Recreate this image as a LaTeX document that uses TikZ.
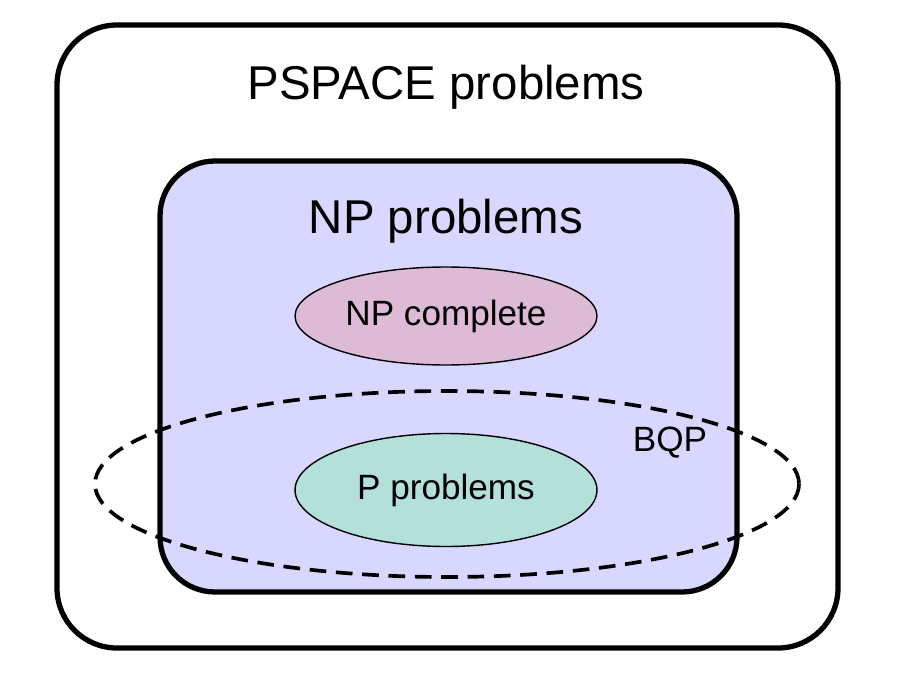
\documentclass[tikz,border=0pt]{standalone}
\usepackage{fontspec}
\setmainfont{Liberation Sans}
\usetikzlibrary{shapes.geometric}
\definecolor{nplav}{HTML}{D7D7FF}
\definecolor{npcpink}{HTML}{DDBBD6}
\definecolor{pgreen}{HTML}{B4E0DA}
\tikzset{font={\fontsize{20pt}{24pt}\selectfont}}
\tikzset{bigtext/.style={font={\fontsize{27pt}{32pt}\selectfont}}}
\tikzset{classbox/.style={line width=3pt, rounded corners=1.2cm}}
\tikzset{classblob/.style={ellipse, draw, line width=0.8pt, inner sep=0pt,
  minimum width=6.04cm, minimum height=1.96cm}}

\begin{document}
\begin{tikzpicture}[x=0.02cm, y=-0.02cm]
      \useasboundingbox (0,0) rectangle (915,672);
      %PSPACE box
      \draw[classbox] (57,25) rectangle (838,648);
      \node[bigtext] (pspace) at (446,87) {PSPACE problems};
      %NP box
      \draw[classbox, fill=nplav, rounded corners=1.1cm] (160,161) rectangle (737,592);
      \node[bigtext] (np) at (446,221) {NP problems};
      %NP complete
      \node[classblob, fill=npcpink] (npc) at (446,316) {NP complete};
      %BQP
      \draw[line width=2.1pt, dash pattern=on 9.5pt off 5.5pt] (447,484) ellipse [x radius=352, y radius=93];
      \node (bqp) at (670,443) {BQP};
      %P
      \node[classblob, fill=pgreen, minimum height=2.26cm] (p) at (446,490) {P problems};
    \end{tikzpicture}
\end{document}
